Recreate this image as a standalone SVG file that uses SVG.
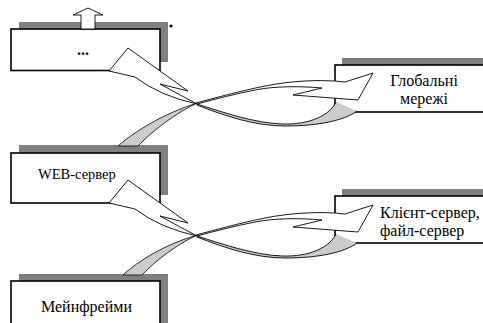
<svg xmlns="http://www.w3.org/2000/svg" width="483" height="323" viewBox="0 0 483 323">
<style>
.sh{fill:#808080;stroke:none}
.bx{fill:#fff;stroke:#000;stroke-width:1.6}
.t{fill:#000}
.w{fill:#fff;stroke:#000;stroke-width:0.9;stroke-linejoin:miter}
.g{fill:#cccccc;stroke:#000;stroke-width:0.8}
.gf{fill:#cccccc;stroke:none}
.ln{fill:none;stroke:#000;stroke-width:0.9}
</style>
<rect width="483" height="323" fill="#fff"/>
<g id="node-top">
<rect class="sh" x="19" y="22" width="149" height="40"/>
<rect class="bx" x="11" y="29" width="149" height="41.5"/>
<polygon class="w" points="81,29 81,15 73,15 88,8 103,15 95,15 95,29"/>
<text class="t" font-family="Liberation Serif, DejaVu Serif, serif" x="77" y="55" font-size="16" font-weight="bold">...</text>
<circle cx="171" cy="26" r="1.6" fill="#000"/>
</g>
<g id="node-web">
<rect class="sh" x="19" y="145" width="149" height="50"/>
<rect class="bx" x="11" y="153" width="149" height="50"/>
<text class="t" font-family="Liberation Serif, DejaVu Serif, serif" x="38" y="179" font-size="14.5">WEB-сервер</text>
</g>
<g id="node-mainframe">
<rect class="sh" x="19" y="274" width="149" height="60"/>
<rect class="bx" x="11" y="281" width="149" height="60"/>
<text class="t" font-family="Liberation Serif, DejaVu Serif, serif" x="41" y="312" font-size="16">Мейнфрейми</text>
</g>
<g id="node-global">
<rect class="sh" x="342" y="58" width="160" height="47"/>
<rect class="bx" x="335" y="65" width="160" height="47"/>
<text class="t" font-family="Liberation Serif, DejaVu Serif, serif" x="424" y="86" font-size="16" text-anchor="middle">Глобальні</text>
<text class="t" font-family="Liberation Serif, DejaVu Serif, serif" x="424" y="104" font-size="16" text-anchor="middle">мережі</text>
</g>
<g id="node-client">
<rect class="sh" x="342" y="189" width="160" height="47"/>
<rect class="bx" x="335" y="196" width="160" height="47"/>
<text class="t" font-family="Liberation Serif, DejaVu Serif, serif" x="380" y="218" font-size="16">Клієнт-сервер,</text>
<text class="t" font-family="Liberation Serif, DejaVu Serif, serif" x="380" y="236" font-size="16">файл-сервер</text>
</g>
<g id="connectors">
<g id="set1">
<path class="g" d="M118,146 C135,131 165,113 196,103.5 C178,112 153,130 138,146 Z"/>
<path class="w" d="M109,71 L128,48 L188,91 L160,84 Q180,95 197,104 Q160,96 135,77 Z"/>
<path class="gf" d="M197,104 C225,113 255,123 282,124 C310,125 330,115 336,102 L357,111 C345,120 320,126 285,126 C255,126 225,116 197,105 Z"/>
<path class="ln" d="M197,104 C225,113 255,123 282,124 C310,125 330,115 336,102"/>
<path class="ln" d="M197,105 C225,116 255,126 285,126 C320,126 345,120 357,111"/>
<path class="w" d="M196,103 C215,98 240,91 265,86 C290,81 320,79 345,82 L373,73 L358,100 L293,95 L322,88 C300,86 275,86 255,90 C235,94 215,99 197,104 Z"/>
</g>
<g id="set2" transform="translate(0,132)">
<path class="g" d="M123,143 C138,129 166,112 196,103.5 C178,112 156,128 142,143 Z"/>
<path class="w" d="M109,71 L128,48 L188,91 L160,84 Q180,95 197,104 Q160,96 135,77 Z"/>
<path class="gf" d="M197,104 C225,113 255,123 282,124 C310,125 330,115 336,102 L357,111 C345,120 320,126 285,126 C255,126 225,116 197,105 Z"/>
<path class="ln" d="M197,104 C225,113 255,123 282,124 C310,125 330,115 336,102"/>
<path class="ln" d="M197,105 C225,116 255,126 285,126 C320,126 345,120 357,111"/>
<path class="w" d="M196,103 C215,98 240,91 265,86 C290,81 320,79 345,82 L373,73 L358,100 L293,95 L322,88 C300,86 275,86 255,90 C235,94 215,99 197,104 Z"/>
</g>
</g>
</svg>
